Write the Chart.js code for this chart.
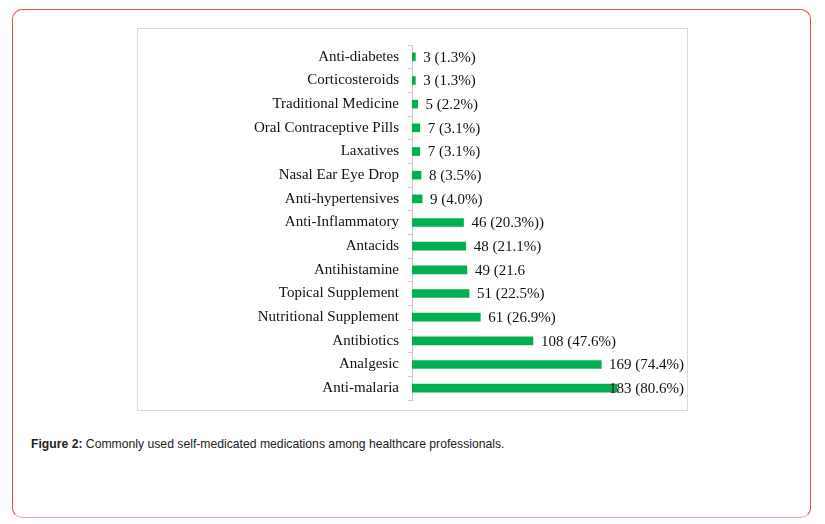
<!DOCTYPE html>
<html lang="en">
<head>
    <meta charset="UTF-8">
    <title>Figure 2</title>
    <script src="https://cdn.jsdelivr.net/npm/chart.js"></script>
    <style>
        body {
            margin: 0;
            width: 825px;
            height: 524px;
            background: #fff;
            position: relative;
            overflow: hidden;
        }
        .frame {
            position: absolute;
            left: 12px;
            top: 9px;
            width: 797px;
            height: 507px;
            border: 1px solid #ea4a3f;
            border-bottom-color: #f2a6a1;
            border-radius: 10px;
        }
        .chart-box {
            position: absolute;
            left: 137px;
            top: 28px;
            width: 549px;
            height: 381px;
            border: 1px solid #d9d9d9;
        }
        .caption {
            position: absolute;
            left: 31px;
            top: 437px;
            font-family: "Liberation Sans", Arial, sans-serif;
            font-size: 12.2px;
            color: #222;
        }
    </style>
</head>
<body>
    <div class="frame"></div>
    <div class="chart-box">
        <canvas id="medChart" width="549" height="381"></canvas>
    </div>
    <div class="caption"><b>Figure 2:</b> Commonly used self-medicated medications among healthcare professionals.</div>

    <script>
        // Daten aus der Abbildung
        const categories = [
            'Anti-diabetes', 'Corticosteroids', 'Traditional Medicine', 'Oral Contraceptive Pills',
            'Laxatives', 'Nasal Ear Eye Drop', 'Anti-hypertensives', 'Anti-Inflammatory',
            'Antacids', 'Antihistamine', 'Topical Supplement', 'Nutritional Supplement',
            'Antibiotics', 'Analgesic', 'Anti-malaria'
        ];
        const counts = [3, 3, 5, 7, 7, 8, 9, 46, 48, 49, 51, 61, 108, 169, 183];
        const valueLabels = [
            '3 (1.3%)', '3 (1.3%)', '5 (2.2%)', '7 (3.1%)', '7 (3.1%)', '8 (3.5%)', '9 (4.0%)',
            '46 (20.3%))', '48 (21.1%)', '49 (21.6', '51 (22.5%)', '61 (26.9%)',
            '108 (47.6%)', '169 (74.4%)', '183 (80.6%)'
        ];

        const serif = '"Liberation Serif", "Times New Roman", serif';

        // Beschriftung rechts neben jedem Balken, am Rand nach links geschoben
        const barLabels = {
            id: 'barLabels',
            afterDatasetsDraw(chart) {
                const ctx = chart.ctx;
                const meta = chart.getDatasetMeta(0);
                ctx.save();
                ctx.font = '15px ' + serif;
                ctx.fillStyle = '#111';
                ctx.textAlign = 'left';
                ctx.textBaseline = 'middle';
                meta.data.forEach((bar, i) => {
                    const w = ctx.measureText(valueLabels[i]).width;
                    const x = Math.min(bar.x + 8, chart.width - 3 - w);
                    ctx.fillText(valueLabels[i], x, bar.y + 1);
                });
                ctx.restore();
            }
        };

        new Chart(document.getElementById('medChart'), {
            type: 'bar',
            data: {
                labels: categories,
                datasets: [{
                    data: counts,
                    backgroundColor: '#00b050',
                    barThickness: 8
                }]
            },
            options: {
                indexAxis: 'y',
                responsive: false,
                animation: false,
                layout: {
                    padding: { top: 16, bottom: 10, right: 51, left: 0 }
                },
                plugins: {
                    legend: { display: false },
                    tooltip: { enabled: false }
                },
                scales: {
                    x: {
                        display: false,
                        min: 0,
                        max: 200
                    },
                    y: {
                        afterFit(scale) {
                            scale.width = 274;
                            scale.paddingTop = 0;
                            scale.paddingBottom = 0;
                        },
                        border: { color: '#c8c8c8', width: 1 },
                        grid: {
                            drawOnChartArea: false,
                            offset: true,
                            tickLength: 4,
                            color: '#c8c8c8'
                        },
                        ticks: {
                            padding: 9,
                            color: '#111',
                            font: { family: serif, size: 15 }
                        }
                    }
                }
            },
            plugins: [barLabels]
        });
    </script>
</body>
</html>
